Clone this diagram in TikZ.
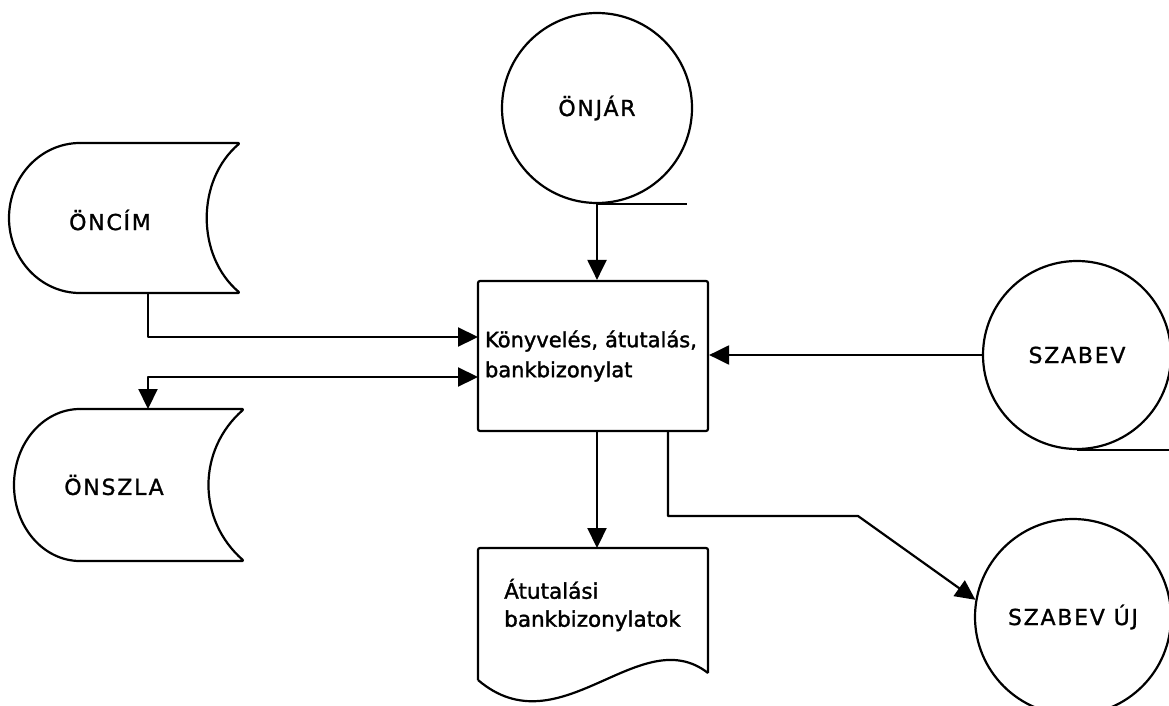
\documentclass[tikz,border=0pt]{standalone}
\usepackage{fontspec}
\setmainfont{DejaVu Sans}
\newfontfamily\lblfont[LetterSpace=8,FakeBold=1.2]{DejaVu Sans}
\newfontfamily\txtfont[FakeBold=1.6]{DejaVu Sans}
\usetikzlibrary{arrows.meta}
\tikzset{
  ln/.style={line width=2.2pt, line join=round},
  tip/.tip={Triangle[length=20pt,width=19pt]},
  arr/.style={ln, -tip},
  arrboth/.style={ln, tip-tip},
  lbl/.style={font=\lblfont\fontsize{22}{26}\selectfont, inner sep=0pt},
  disk/.style={ln, draw, circle, inner sep=0pt, font=\lblfont\fontsize{22}{26}\selectfont},
  proc/.style={ln, draw, rectangle, rounded corners=2pt, minimum width=230pt, minimum height=150pt,
     text width=216pt, inner xsep=7pt, align=left, font=\txtfont\fontsize{21}{30}\selectfont},
  doctext/.style={inner sep=0pt, align=left, font=\txtfont\fontsize{21.5}{28}\selectfont}
}
\begin{document}
\begin{tikzpicture}[x=1pt,y=-1pt]
\useasboundingbox[fill=white] (0,0) rectangle (1169,706);

% process box
\node[proc] (box) at (593,356) {Könyvelés, átutalás,\\bankbizonylat};

% ÖNJÁR
\node[disk, minimum size=190pt] (onjar) at (597,108) {ÖNJÁR};
\draw[ln] (onjar.south) -- ++(90,0);

% SZABEV
\node[disk, minimum size=188pt] (szabev) at (1077,355) {SZABEV};
\draw[ln] (szabev.south) -- ++(95,0);

% SZABEV ÚJ
\node[disk, minimum size=196pt] (szabevuj) at (1073,617) {SZABEV ÚJ};

% ÖNCÍM storage shape
\draw[ln, rounded corners=1.5pt] (80,143) -- (240,143)
  .. controls (196,180) and (196,256) .. (240,293) -- (80,293);
\draw[ln] (80,293) .. controls (40.8,293) and (9,259.4) .. (9,218)
  .. controls (9,176.6) and (40.8,143) .. (80,143);
\node[lbl] (oncim) at (110,220) {ÖNCÍM};
\coordinate (oncimout) at (148,293);

% ÖNSZLA storage shape
\draw[ln, rounded corners=1.5pt] (80,409) -- (244,409)
  .. controls (197,450) and (197,520) .. (244,561) -- (80,561);
\draw[ln] (80,561) .. controls (43.5,561) and (14,527) .. (14,485)
  .. controls (14,443) and (43.5,409) .. (80,409);
\node[lbl] (onszla) at (114,485) {ÖNSZLA};
\coordinate (onszlain) at (148,409);

% document shape
\draw[ln, rounded corners=2pt] (708,673) -- (708,548) -- (478,548) -- (478,680);
\draw[ln] (478,680) .. controls (560,750) and (640,620) .. (708,673);
\node[doctext, anchor=west] (doc) at (504,605) {Átutalási\\bankbizonylatok};
\coordinate (doctop) at (597,548);

% connectors
\coordinate (in1) at (478,337);
\coordinate (in2) at (478,377);
\coordinate (out1) at (597,431);
\coordinate (out2) at (668,431);
\coordinate (bend1) at (668,516);
\coordinate (bend2) at (858,516);

\draw[arr] (onjar.south) -- (onjar.south |- box.north);
\draw[arr] (oncimout) |- (in1);
\draw[arrboth] (onszlain) |- (in2);
\draw[arr] (szabev.west) -- (box.east |- szabev.west);
\draw[arr] (out1) -- (doctop);
\draw[arr] (out2) -- (bend1) -- (bend2) -- (szabevuj.170);
\end{tikzpicture}
\end{document}
